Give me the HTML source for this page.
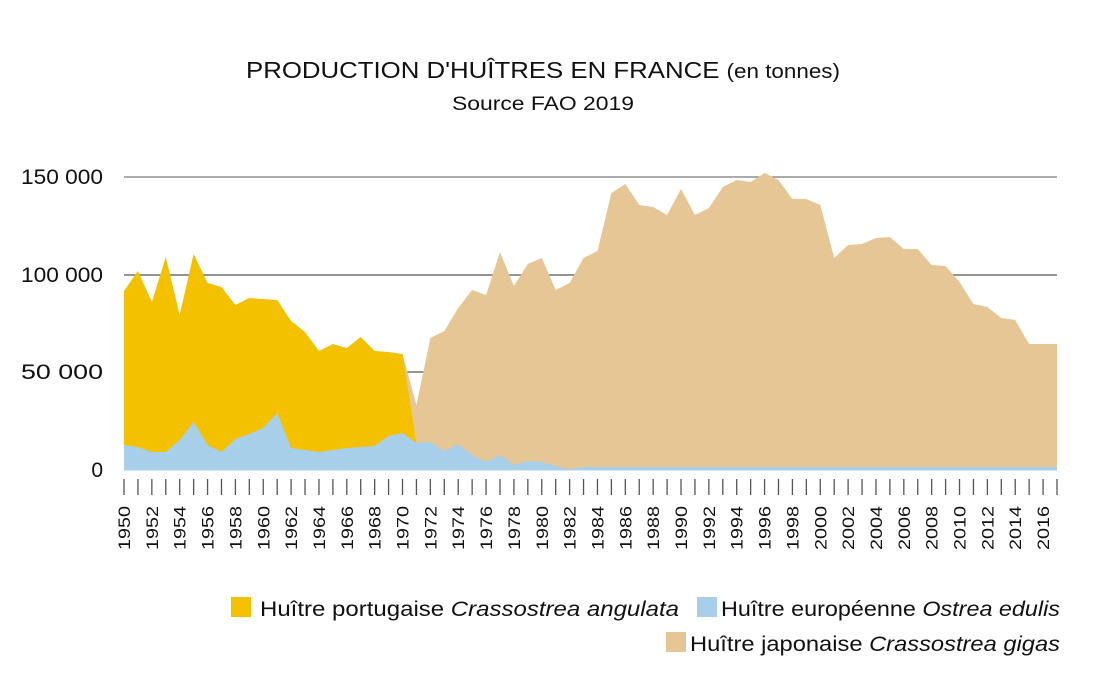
<!DOCTYPE html>
<html><head><meta charset="utf-8"><style>
html,body{margin:0;padding:0;background:#fff;}
svg{display:block;font-family:"Liberation Sans",sans-serif;}
</style></head><body>
<svg width="1094" height="685" viewBox="0 0 1094 685" xmlns="http://www.w3.org/2000/svg">
<text x="543" y="78" text-anchor="middle" font-size="23" fill="#111" textLength="594" lengthAdjust="spacingAndGlyphs">PRODUCTION D'HUÎTRES EN FRANCE <tspan font-size="20">(en tonnes)</tspan></text>
<text x="543" y="110" text-anchor="middle" font-size="19" fill="#111" textLength="182" lengthAdjust="spacingAndGlyphs">Source FAO 2019</text>
<g font-size="21" fill="#111" text-anchor="end">
<text x="103" y="184" textLength="82" lengthAdjust="spacingAndGlyphs">150 000</text>
<text x="103" y="282" textLength="82" lengthAdjust="spacingAndGlyphs">100 000</text>
<text x="103" y="379" textLength="82" lengthAdjust="spacingAndGlyphs">50 000</text>
<text x="103" y="477">0</text>
</g>
<line x1="124" y1="177" x2="1057" y2="177" stroke="#777" stroke-width="1.3"/>
<line x1="124" y1="275" x2="1057" y2="275" stroke="#555" stroke-width="1.3"/>
<line x1="124" y1="372" x2="1057" y2="372" stroke="#555" stroke-width="1.3"/>
<g id="areas"></g>
<g id="ticks" stroke="#555" stroke-width="1.3"></g>
<g id="labels" font-size="17" fill="#111"></g>
<rect x="231" y="597" width="20" height="20" fill="#F3C100"/>
<text x="260" y="616" font-size="21" fill="#111" textLength="419" lengthAdjust="spacingAndGlyphs">Huître portugaise <tspan font-style="italic">Crassostrea angulata</tspan></text>
<rect x="697" y="597" width="20" height="20" fill="#A8CFEA"/>
<text x="721" y="616" font-size="21" fill="#111" textLength="339" lengthAdjust="spacingAndGlyphs">Huître européenne <tspan font-style="italic">Ostrea edulis</tspan></text>
<rect x="666" y="632" width="20" height="20" fill="#E6C694"/>
<text x="690" y="651" font-size="21" fill="#111" textLength="370" lengthAdjust="spacingAndGlyphs">Huître japonaise <tspan font-style="italic">Crassostrea gigas</tspan></text>
</svg>
<script>
(function(){
var NS="http://www.w3.org/2000/svg";
function X(y){return 124+(y-1950)*(933/67);}
var yel=[291,271,302,257,315,254,283,287,305,298,299,300,321,332,351,344,348,337,351,352,354];
var blu=[445,447,452,452,440,422,445,452,439,434,428,413,448,450,452,450,448,447,446,436,433,443,442,451,444,455,462,455,465,461,462,466,469];
var bei={1970:354,1971:405,1972:338,1973:331,1974:308,1975:290,1976:295,1977:252,1978:286,1979:264,1980:258,1981:290,1982:283,1983:258,1984:251,1985:193,1986:184,1987:205,1988:207,1989:215,1990:189,1991:215,1992:208,1993:187,1994:180,1995:182,1996:173,1997:180,1998:199,1999:199,2000:205,2001:258,2002:245,2003:244,2004:238,2005:237,2006:249,2007:249,2008:265,2009:266,2010:282,2011:304,2012:307,2013:318,2014:320,2015:344,2016:344,2017:344};
var base=470.5;
function poly(pts,fill){var p=document.createElementNS(NS,"polygon");p.setAttribute("points",pts.map(function(a){return a[0].toFixed(1)+","+a[1]}).join(" "));p.setAttribute("fill",fill);document.getElementById("areas").appendChild(p);}
var b=[[X(1970),base]];for(var y=1970;y<=2017;y++)b.push([X(y),bei[y]]);b.push([X(2017),base]);poly(b,"#E6C694");
var yl=[[X(1950),base]];for(var i=0;i<yel.length;i++)yl.push([X(1950+i),yel[i]]);yl.push([X(1971),443]);yl.push([X(1971),base]);poly(yl,"#F3C100");
var bl=[[X(1950),base]];for(var y=1950;y<=2017;y++){var v=(y-1950)<blu.length?blu[y-1950]:467;bl.push([X(y),v]);}bl.push([X(2017),base]);poly(bl,"#A8CFEA");
var t=document.getElementById("ticks"),l=document.getElementById("labels");
for(var y=1950;y<=2017;y++){var ln=document.createElementNS(NS,"line");var x=X(y);ln.setAttribute("x1",x);ln.setAttribute("x2",x);ln.setAttribute("y1",479);ln.setAttribute("y2",495);t.appendChild(ln);
if((y-1950)%2==0){var tx=document.createElementNS(NS,"text");tx.setAttribute("transform","translate("+(x+6)+",550) rotate(-90)");tx.setAttribute("textLength","44");tx.setAttribute("lengthAdjust","spacingAndGlyphs");tx.textContent=y;l.appendChild(tx);}}
})();
</script>
</body></html>
